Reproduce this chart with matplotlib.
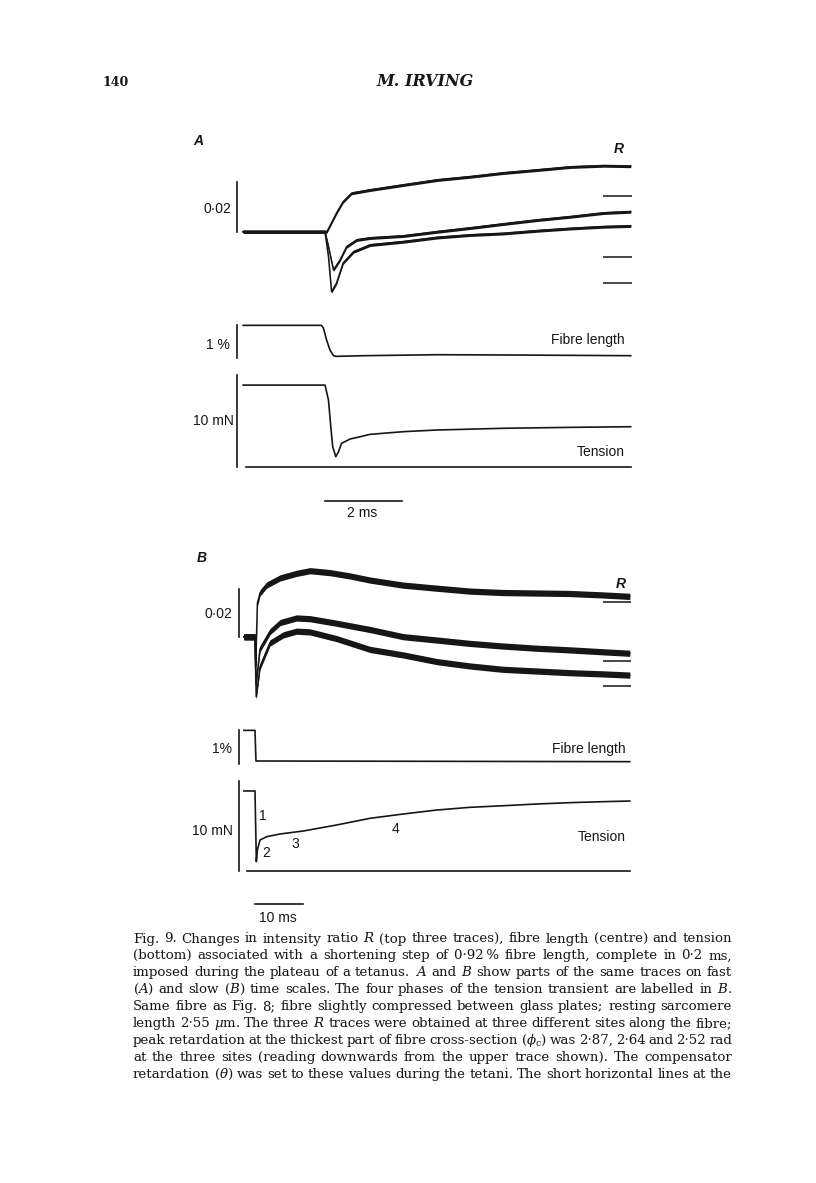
"""Fig. 9 (Irving) - intensity ratio R, fibre length and tension after a shortening step.

Page drawn at 816 x 1183 px; each trace panel gets its own axes whose data units
(ms, delta R, % length, mN) are scaled to match the printed scale bars.
"""
import matplotlib.pyplot as plt
import numpy as np

W, H = 816, 1183
INK = '#161616'

# ---------------- panel A : fast time base (ms from start of step) ----------------
a_up_t = [-2.12, 0.0, 0.05, 0.30, 0.47, 0.69, 1.17, 2.03, 2.91, 3.77, 4.62, 5.51, 6.36, 7.22, 7.92]
a_up_r = [0, 0, 0, 0.0075, 0.0120, 0.0154, 0.0167, 0.0187, 0.0207, 0.0220, 0.0235, 0.0247, 0.0259, 0.0264, 0.0262]

a_mid_t = [-2.12, 0.0, 0.09, 0.22, 0.39, 0.56, 0.82, 1.17, 2.03, 2.91, 3.77, 4.62, 5.51, 6.36, 7.22, 7.92]
a_mid_r = [0, 0, -0.006, -0.0153, -0.0113, -0.006, -0.0033, -0.0025, -0.0017, 0.0, 0.0015, 0.0031, 0.0047, 0.006, 0.0075, 0.008]

a_low_t = [-2.12, 0.0, 0.09, 0.17, 0.30, 0.47, 0.74, 1.17, 2.03, 2.91, 3.77, 4.62, 5.51, 6.36, 7.22, 7.92]
a_low_r = [0, 0, -0.010, -0.024, -0.0205, -0.0125, -0.008, -0.0053, -0.004, -0.0023, -0.0013, -0.0007, 0.0004, 0.0013, 0.002, 0.0023]

a_len_t = [-2.12, -0.09, -0.04, 0.04, 0.13, 0.22, 0.30, 1.0, 2.9, 5.0, 7.92]
a_len = [0.92, 0.92, 0.83, 0.48, 0.17, 0.0, -0.02, 0.0, 0.03, 0.02, 0.0]

a_ten_t = [-2.12, 0.0, 0.09, 0.15, 0.20, 0.28, 0.35, 0.43, 0.65, 0.91, 1.17, 2.03, 2.90, 4.63, 6.36, 7.92]
a_ten = [8.9, 8.9, 7.27, 4.36, 2.18, 1.09, 1.64, 2.55, 3.02, 3.27, 3.53, 3.82, 4.0, 4.19, 4.29, 4.36]

# ---------------- panel B : slow time base ----------------
b_up_t = [-2.3, 0.0, 0.15, 0.5, 1.04, 2.4, 5.2, 8.6, 11.4, 15.5, 19.7, 23.8, 30.6, 37.7, 44.5, 51.3, 58.4, 65.2, 72.0, 77.6]
b_up_r = [0, 0, -0.012, 0.014, 0.0182, 0.0215, 0.0245, 0.0264, 0.0275, 0.0267, 0.0253, 0.0236, 0.0215, 0.0202,
          0.019, 0.0184, 0.0182, 0.018, 0.0174, 0.0168]

b_mid_t = [-2.3, 0.0, 0.2, 1.04, 3.1, 5.2, 8.6, 11.4, 16.9, 23.8, 30.7, 37.7, 44.5, 51.4, 58.3, 65.2, 72.1, 77.6]
b_mid_r = [0, 0, -0.02, -0.0051, 0.0021, 0.0059, 0.0078, 0.0075, 0.0056, 0.003, 0.0, -0.0014, -0.0028, -0.0039,
           -0.0048, -0.0055, -0.0063, -0.0069]

b_low_t = [-2.3, 0.0, 0.25, 1.04, 3.1, 5.9, 8.6, 11.4, 16.9, 23.8, 30.7, 37.7, 44.5, 51.4, 58.3, 65.2, 72.1, 77.6]
b_low_r = [0, 0, -0.025, -0.0125, -0.0026, 0.0008, 0.0023, 0.002, -0.0008, -0.0053, -0.0076, -0.0104, -0.0122,
           -0.0136, -0.0143, -0.015, -0.0155, -0.016]

b_len_t = [-2.3, 0.0, 0.2, 77.6]
b_len = [0.92, 0.92, 0.0, -0.02]

b_ten_t = [-2.3, 0.0, 0.28, 0.48, 1.04, 2.42, 5.18, 10.0, 16.9, 23.8, 30.7, 37.6, 44.5, 51.4, 58.3, 65.2, 72.1, 77.6]
b_ten = [8.86, 8.86, 1.0, 2.3, 3.41, 3.78, 4.08, 4.41, 5.08, 5.82, 6.3, 6.74, 7.04, 7.22, 7.41, 7.56, 7.67, 7.74]

# phase labels of the tension transient (panel B): text, time, tension
phase_lbl = ['1', '2', '3', '4']
phase_t = [1.6, 2.4, 8.3, 29.0]
phase_T = [5.6, 1.55, 2.55, 4.15]

r_ref = [0.0143, -0.0100, -0.0207]   # short horizontal lines at right of R traces
step = 0.92                          # % fibre length
r_bar, len_bar, ten_bar = 0.02, 1.0, 10.0
a_tbar, b_tbar = 2.0, 10.0

caption = [
    "Fig. 9. Changes in intensity ratio $R$ (top three traces), fibre length (centre) and tension",
    "(bottom) associated with a shortening step of 0\u00b792\u2009% fibre length, complete in 0\u00b72 ms,",
    "imposed during the plateau of a tetanus. $A$ and $B$ show parts of the same traces on fast",
    "$(A)$ and slow $(B)$ time scales. The four phases of the tension transient are labelled in $B$.",
    "Same fibre as Fig. 8; fibre slightly compressed between glass plates; resting sarcomere",
    "length 2\u00b755 $\\mu$m. The three $R$ traces were obtained at three different sites along the fibre;",
    "peak retardation at the thickest part of fibre cross-section $(\\phi_\\mathrm{c})$ was 2\u00b787, 2\u00b764 and 2\u00b752 rad",
    "at the three sites (reading downwards from the upper trace shown). The compensator",
    "retardation $(\\theta)$ was set to these values during the tetani. The short horizontal lines at the",
]

plt.rcParams['mathtext.fontset'] = 'dejavuserif'
fig = plt.figure(figsize=(W / 100, H / 100), dpi=100)
fig.patch.set_facecolor('white')


def px_axes(x0, xs, xlim, y0, ys, ylim):
    # x0/y0: page pixel of data zero, xs/ys: pixels per data unit
    left, right = x0 + xlim[0] * xs, x0 + xlim[1] * xs
    top, bottom = y0 - ylim[1] * ys, y0 - ylim[0] * ys
    ax = fig.add_axes([left / W, 1 - bottom / H, (right - left) / W, (bottom - top) / H])
    ax.set_xlim(xlim)
    ax.set_ylim(ylim)
    ax.axis('off')
    ax.patch.set_alpha(0)
    return ax


def label(x, y, s, ha='left', **kw):
    kw.setdefault('family', 'Liberation Sans')
    kw.setdefault('fontsize', 10)
    fig.text(x / W, 1 - y / H, s, ha=ha, va='baseline', color=INK, **kw)


def noisy(ax, t, v, hw, lw):
    t, v = np.asarray(t), np.asarray(v)
    ax.fill_between(t, v - hw, v + hw, color=INK, lw=0)
    ax.plot(t, v, color=INK, lw=lw)


def panel(x0, xs, xlim, rows, traces, length, tension, bar_x, ref_w, hw, tbar):
    (ry0, rys), (ly0, lys), (ty0, tys) = rows
    axR = px_axes(x0, xs, xlim, ry0, rys, (-0.03, 0.035))
    axL = px_axes(x0, xs, xlim, ly0, lys, (-0.5, 1.3))
    axT = px_axes(x0, xs, xlim, ty0, tys, (-5, 11))
    for t, v in traces:
        noisy(axR, t, v, hw, 1.1)
    t_end = traces[0][0][-1]
    axR.hlines(r_ref, t_end - ref_w, t_end + ref_w * 0.05, color=INK, lw=1.1)
    axR.plot([bar_x, bar_x], [0, r_bar], color=INK, lw=1.2)
    axL.plot(length[0], length[1], color=INK, lw=1.2)
    axL.plot([bar_x, bar_x], [step - len_bar, step], color=INK, lw=1.2)
    axT.plot(tension[0], tension[1], color=INK, lw=1.2)
    axT.plot([tension[0][0] + ref_w * 0.1, tension[0][-1]], [0, 0], color=INK, lw=1.2)
    axT.plot([bar_x, bar_x], [0, ten_bar], color=INK, lw=1.2)
    axT.plot([0, tbar], [-3.7, -3.7], color=INK, lw=1.2)
    return axT


# panel A
panel(325, 38.6, (-4.0, 8.4), [(231.7, 2500), (355.7, 33.0), (466.7, 9.17)],
      [(a_up_t, a_up_r), (a_mid_t, a_mid_r), (a_low_t, a_low_r)],
      (a_len_t, a_len), (a_ten_t, a_ten), -2.27, 0.72, 0.0006, a_tbar)

# panel B
axTB = panel(255, 4.83, (-17.6, 81.8), [(636.7, 2400), (761.0, 33.3), (870.7, 9.0)],
             [(b_up_t, b_up_r), (b_mid_t, b_mid_r), (b_low_t, b_low_r)],
             (b_len_t, b_len), (b_ten_t, b_ten), -3.3, 5.6, 0.0013, b_tbar)
for s, t, v in zip(phase_lbl, phase_t, phase_T):
    axTB.text(t, v, s, ha='center', va='baseline', fontsize=10, family='Liberation Sans', color=INK)

# panel labels
label(198, 145, 'A', ha='center', weight='bold', style='italic')
label(619, 153.3, 'R', ha='center', weight='bold', style='italic')
label(231, 213.3, '0\u00b702', ha='right')
label(230, 349.3, '1 %', ha='right')
label(625, 344.3, 'Fibre length', ha='right')
label(234, 425, '10 mN', ha='right')
label(625, 456, 'Tension', ha='right')
label(362, 517.3, '2 ms', ha='center')

label(201.7, 561.7, 'B', ha='center', weight='bold', style='italic')
label(621, 587.7, 'R', ha='center', weight='bold', style='italic')
label(232.7, 617.7, '0\u00b702', ha='right')
label(231.7, 753.3, '1%', ha='right')
label(626, 753.3, 'Fibre length', ha='right')
label(233.3, 835, '10 mN', ha='right')
label(626, 840.7, 'Tension', ha='right')
label(278.3, 921.7, '10 ms', ha='center')

# running head
label(103, 86.5, '140', family='DejaVu Serif', fontsize=9, weight='bold')
label(425, 86.5, 'M. IRVING', ha='center', family='DejaVu Serif', fontsize=11.5, style='italic', weight='bold')

# caption, justified word by word
cap_l, cap_r = 133, 732
rend = fig.canvas.get_renderer()
for i, line in enumerate(caption):
    y = 942.5 + 16.9 * i
    words = line.split(' ')
    texts = [fig.text(0, 0, w, family='DejaVu Serif', fontsize=9.6, va='baseline', color=INK) for w in words]
    widths = [t.get_window_extent(rend).width for t in texts]
    gap = (cap_r - cap_l - sum(widths)) / (len(words) - 1)
    x = cap_l
    for t, w in zip(texts, widths):
        t.set_position((x / W, 1 - y / H))
        x += w + gap

fig.savefig('out.png', dpi=100, facecolor='white')
